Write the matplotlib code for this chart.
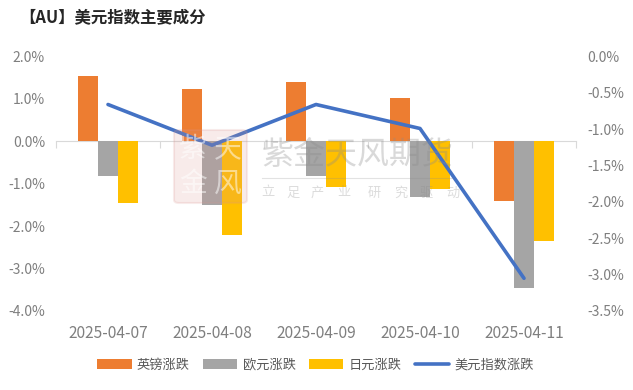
import matplotlib
matplotlib.use("Agg")
import matplotlib.pyplot as plt
import numpy as np
from matplotlib.patches import FancyBboxPatch

plt.rcParams['font.family'] = ['Noto Sans CJK SC', 'DejaVu Sans']

dates = ['2025-04-07', '2025-04-08', '2025-04-09', '2025-04-10', '2025-04-11']
gbp = [1.54, 1.24, 1.40, 1.03, -1.40]
eur = [-0.82, -1.50, -0.82, -1.32, -3.45]
jpy = [-1.45, -2.22, -1.08, -1.12, -2.36]
dxy = [-0.66, -1.22, -0.66, -0.99, -3.05]

left_ticks = [2, 1, 0, -1, -2, -3, -4]
right_ticks = [0, -0.5, -1, -1.5, -2, -2.5, -3, -3.5]

W, H = 633, 390
grey = '#7f7f7f'

fig = plt.figure(figsize=(W / 100, H / 100), dpi=100)
ax = fig.add_axes([56 / W, 1 - 311 / H, 520 / W, 254.5 / H])
x = np.arange(len(dates))
w = 0.193

b1 = ax.bar(x - w, gbp, w, color='#ed7d31', label='英镑涨跌')
b2 = ax.bar(x, eur, w, color='#a5a5a5', label='欧元涨跌')
b3 = ax.bar(x + w, jpy, w, color='#ffc000', label='日元涨跌')
ax.set_xlim(-0.5, 4.5)
ax.set_ylim(-4, 2)
ax.set_yticks(left_ticks, [f'{v:.1f}%' for v in left_ticks])
ax.set_xticks(x, dates)
ax.tick_params(axis='x', length=0, labelsize=11.2, labelcolor=grey, pad=10)
ax.tick_params(axis='y', length=0, labelsize=10, labelcolor=grey, pad=8)
for s in ax.spines.values():
    s.set_visible(False)

# zero line with tick marks between the categories
zero = ax.secondary_xaxis(4 / 6)
zero.set_xticks(np.arange(-0.5, 5, 1), [''] * 6)
zero.tick_params(axis='x', direction='out', length=5, width=0.8, color='#d9d9d9', top=False, bottom=True)
zero.spines['bottom'].set_color('#d9d9d9')
zero.spines['top'].set_color('#d9d9d9')

ax2 = ax.twinx()
line, = ax2.plot(x, dxy, color='#4472c4', lw=2.6, solid_capstyle='round', label='美元指数涨跌', zorder=5)
ax2.set_ylim(-3.5, 0)
ax2.set_yticks(right_ticks, [f'{v:.1f}%' for v in right_ticks])
ax2.tick_params(axis='y', length=0, labelsize=10, labelcolor=grey, pad=8)
for s in ax2.spines.values():
    s.set_visible(False)

fig.text(19 / W, 1 - 17 / H, '【AU】美元指数主要成分', fontsize=11.8, fontweight='bold',
         color='#262626', va='center', ha='left',
         family=['Noto Sans CJK SC', 'DejaVu Sans'])

fig.legend(handles=[b1, b2, b3, line], loc='center', bbox_to_anchor=(315.5 / W, 1 - 365 / H),
           ncol=4, frameon=False, fontsize=9.5, labelcolor='#595959', handlelength=2.6,
           handleheight=0.7, columnspacing=1.0, handletextpad=0.4)

# watermark
seal = FancyBboxPatch((174 / W, 1 - 203 / H), 73 / W, 73 / H, transform=fig.transFigure,
                      boxstyle='round,pad=0,rounding_size=0.008', fc='#d9928c', ec='#d9928c',
                      alpha=0.18, lw=1.5, zorder=10)
fig.add_artist(seal)
for tx, ty, ch in [(193, 149, '紫'), (228, 149, '天'), (193, 184, '金'), (228, 184, '风')]:
    fig.text(tx / W, 1 - ty / H, ch, fontsize=20, color='white', alpha=0.5,
             ha='center', va='center', zorder=11)
fig.text(262 / W, 1 - 155 / H, '紫金天风期货', fontsize=23, color='#8c8c8c',
         alpha=0.33, ha='left', va='center', zorder=11)
fig.add_artist(plt.Line2D([262 / W, 452 / W], [1 - 178 / H] * 2, transform=fig.transFigure,
                          color='#8c8c8c', alpha=0.25, lw=0.8, zorder=11))
for tx, ch in [(261, '立'), (286, '足'), (311, '产'), (337, '业'), (368, '研'), (394, '究'), (420, '驱'), (446, '动')]:
    fig.text(tx / W, 1 - 193 / H, ch, fontsize=9.5, color='#8c8c8c', alpha=0.3, va='center', zorder=11)

fig.savefig('out.png', dpi=100)
